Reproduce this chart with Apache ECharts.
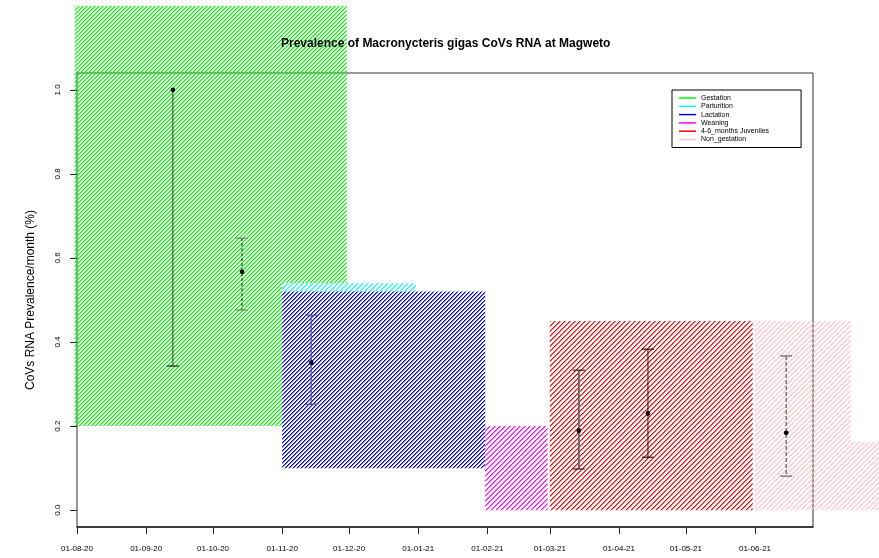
<!DOCTYPE html>
<html>
<head>
<meta charset="utf-8">
<script src="https://cdn.jsdelivr.net/npm/echarts@6/dist/echarts.min.js"></script>
<style>
html, body { margin: 0; padding: 0; background: #fff; }
#chart { width: 879px; height: 558px; }
</style>
</head>
<body>
<div id="chart"></div>
<script>
// phases of the reproductive cycle: [start, end, low, high]
const phaseNames = ['Gestation', 'Parturition', 'Lactation', 'Weaning', '4-6_months Juveniles', 'Non_gestation'];
const gestationBlocks = [['2020-07-31', '2020-11-01', 0.2, 1.2], ['2020-11-01', '2020-11-30', 0.54, 1.2]];
const parturitionBlocks = [['2020-11-01', '2020-12-31', 0.52, 0.54]];
const lactationBlocks = [['2020-11-01', '2021-01-31', 0.1, 0.52]];
const weaningBlocks = [['2021-01-31', '2021-02-28', 0, 0.2]];
const juvenileBlocks = [['2021-03-01', '2021-05-31', 0, 0.45]];
const nonGestationBlocks = [['2021-06-01', '2021-07-14', 0, 0.45], ['2021-07-14', '2021-09-01', 0, 0.163]];

// monthly prevalence with CI
const sampleDates = ['2020-09-13', '2020-10-14', '2020-11-14', '2021-03-14', '2021-04-14', '2021-06-15'];
const prevalence = [1.0, 0.567, 0.351, 0.189, 0.230, 0.184];
const lowerCI = [0.343, 0.476, 0.252, 0.098, 0.126, 0.081];
const upperCI = [1.0, 0.647, 0.464, 0.333, 0.383, 0.367];

const monthTicks = ['2020-08-01', '2020-09-01', '2020-10-01', '2020-11-01', '2020-12-01', '2021-01-01',
    '2021-02-01', '2021-03-01', '2021-04-01', '2021-05-01', '2021-06-01'];
const monthLabels = ['01-08-20', '01-09-20', '01-10-20', '01-11-20', '01-12-20', '01-01-21',
    '01-02-21', '01-03-21', '01-04-21', '01-05-21', '01-06-21'];
const yTicks = [0, 0.2, 0.4, 0.6, 0.8, 1.0];

const phaseBlocks = [gestationBlocks, parturitionBlocks, lactationBlocks, weaningBlocks, juvenileBlocks, nonGestationBlocks];
const phaseColors = ['#00ff00', '#00ffff', '#0000ff', '#ff00ff', '#ff0000', '#ffc0cb'];
const hatchStep = [4, 5, 4, 5, 5, 5];
// line look of each error bar
const barStyles = [
    { color: '#333', width: 1, dash: null, cap: '#111' },
    { color: '#111', width: 1, dash: [3, 2], cap: '#777' },
    { color: '#555', width: 1.2, dash: null, cap: '#555' },
    { color: '#666', width: 2, dash: null, cap: '#222' },
    { color: '#111', width: 1, dash: null, cap: '#111' },
    { color: '#777', width: 1.5, dash: [4, 2], cap: '#666' }
];

const FONT = 'Liberation Sans, Arial, sans-serif';
const t = s => +new Date(s + 'T00:00:00');
const tickTimes = monthTicks.map(t);

// crisp pixel hatching "/" like R's rect(density=...)
function hatch(color, step) {
    const c = document.createElement('canvas');
    c.width = step;
    c.height = step;
    const g = c.getContext('2d');
    g.fillStyle = color;
    for (let y = 0; y < step; y++) {
        for (let x = 0; x < step; x++) {
            const k = (x + y) % step;
            if (k === 0) {
                g.globalAlpha = 1;
                g.fillRect(x, y, 1, 1);
            } else if (k === 1) {
                g.globalAlpha = 0.55;
                g.fillRect(x, y, 1, 1);
            }
        }
    }
    return c;
}

const chart = echarts.init(document.getElementById('chart'));

const series = phaseNames.map((name, k) => {
    const pattern = { image: hatch(phaseColors[k], hatchStep[k]), repeat: 'repeat' };
    return {
        type: 'custom',
        name: name,
        clip: false,
        color: phaseColors[k],
        itemStyle: { color: phaseColors[k] },
        encode: { x: [0, 1], y: [2, 3] },
        data: phaseBlocks[k].map(b => [t(b[0]), t(b[1]), b[2], b[3]]),
        renderItem: function (params, api) {
            const p1 = api.coord([api.value(0), api.value(3)]);
            const p2 = api.coord([api.value(1), api.value(2)]);
            return {
                type: 'rect',
                shape: { x: p1[0], y: p1[1], width: p2[0] - p1[0], height: p2[1] - p1[1] },
                style: { fill: pattern }
            };
        },
        silent: true
    };
});

series.push({
    type: 'custom',
    name: 'prevalence',
    clip: false,
    encode: { x: 0, y: [1, 2, 3] },
    data: sampleDates.map((d, i) => [t(d), prevalence[i], lowerCI[i], upperCI[i]]),
    renderItem: function (params, api) {
        const st = barStyles[params.dataIndex];
        const x = api.value(0);
        const mid = api.coord([x, api.value(1)]);
        const lo = api.coord([x, api.value(2)]);
        const hi = api.coord([x, api.value(3)]);
        const children = [{
            type: 'line',
            shape: { x1: hi[0], y1: hi[1], x2: lo[0], y2: lo[1] },
            style: { stroke: st.color, lineWidth: st.width, lineDash: st.dash }
        }, {
            type: 'line',
            shape: { x1: lo[0] - 6, y1: lo[1], x2: lo[0] + 6, y2: lo[1] },
            style: { stroke: st.cap, lineWidth: 1.2 }
        }];
        if (api.value(3) !== api.value(1)) {
            children.push({
                type: 'line',
                shape: { x1: hi[0] - 6, y1: hi[1], x2: hi[0] + 6, y2: hi[1] },
                style: { stroke: st.cap, lineWidth: 1.2 }
            });
        }
        children.push({
            type: 'circle',
            shape: { cx: mid[0], cy: mid[1], r: 2.4 },
            style: { fill: '#000' }
        });
        return { type: 'group', children: children };
    },
    silent: true
});

const option = {
    animation: false,
    backgroundColor: '#fff',
    textStyle: { fontFamily: FONT },
    title: {
        text: 'Prevalence of Macronycteris gigas CoVs RNA at Magweto',
        left: 281,
        top: 38,
        padding: 0,
        textStyle: { fontSize: 12, fontWeight: 'bold', color: '#000', fontFamily: FONT }
    },
    legend: {
        data: phaseNames,
        orient: 'vertical',
        left: 672,
        top: 90,
        icon: 'rect',
        itemWidth: 17,
        itemHeight: 1.5,
        itemGap: 0.3,
        selectedMode: false,
        borderColor: '#000',
        borderWidth: 1,
        borderRadius: 0,
        padding: [4, 32, 4, 7],
        textStyle: { fontSize: 7, lineHeight: 8, color: '#000', fontFamily: FONT }
    },
    grid: {
        left: 77,
        right: 66,
        top: 73,
        bottom: 31,
        show: true,
        borderColor: '#333',
        borderWidth: 1,
        backgroundColor: 'transparent'
    },
    xAxis: {
        type: 'value',
        min: t('2020-08-01'),
        max: t('2021-06-27'),
        axisLine: { show: true, onZero: false, lineStyle: { color: '#222', width: 1.5 } },
        axisTick: {
            show: true,
            customValues: tickTimes,
            length: 7,
            lineStyle: { color: '#222' }
        },
        axisLabel: {
            customValues: tickTimes,
            formatter: v => monthLabels[tickTimes.indexOf(v)] || '',
            fontSize: 8,
            margin: 18,
            color: '#000',
            fontFamily: FONT
        },
        splitLine: { show: false }
    },
    yAxis: {
        type: 'value',
        min: -0.04,
        max: 1.04,
        name: 'CoVs RNA Prevalence/month (%)',
        nameLocation: 'middle',
        nameRotate: 90,
        nameGap: 40,
        nameTextStyle: { fontSize: 12, color: '#000', fontFamily: FONT },
        axisLine: { show: false },
        axisTick: {
            show: true,
            customValues: yTicks,
            length: 7,
            lineStyle: { color: '#222' }
        },
        axisLabel: {
            customValues: yTicks,
            formatter: v => v.toFixed(1),
            rotate: 90,
            fontSize: 8,
            margin: 15,
            color: '#000',
            fontFamily: FONT
        },
        splitLine: { show: false }
    },
    series: series
};

chart.setOption(option);
</script>
</body>
</html>
